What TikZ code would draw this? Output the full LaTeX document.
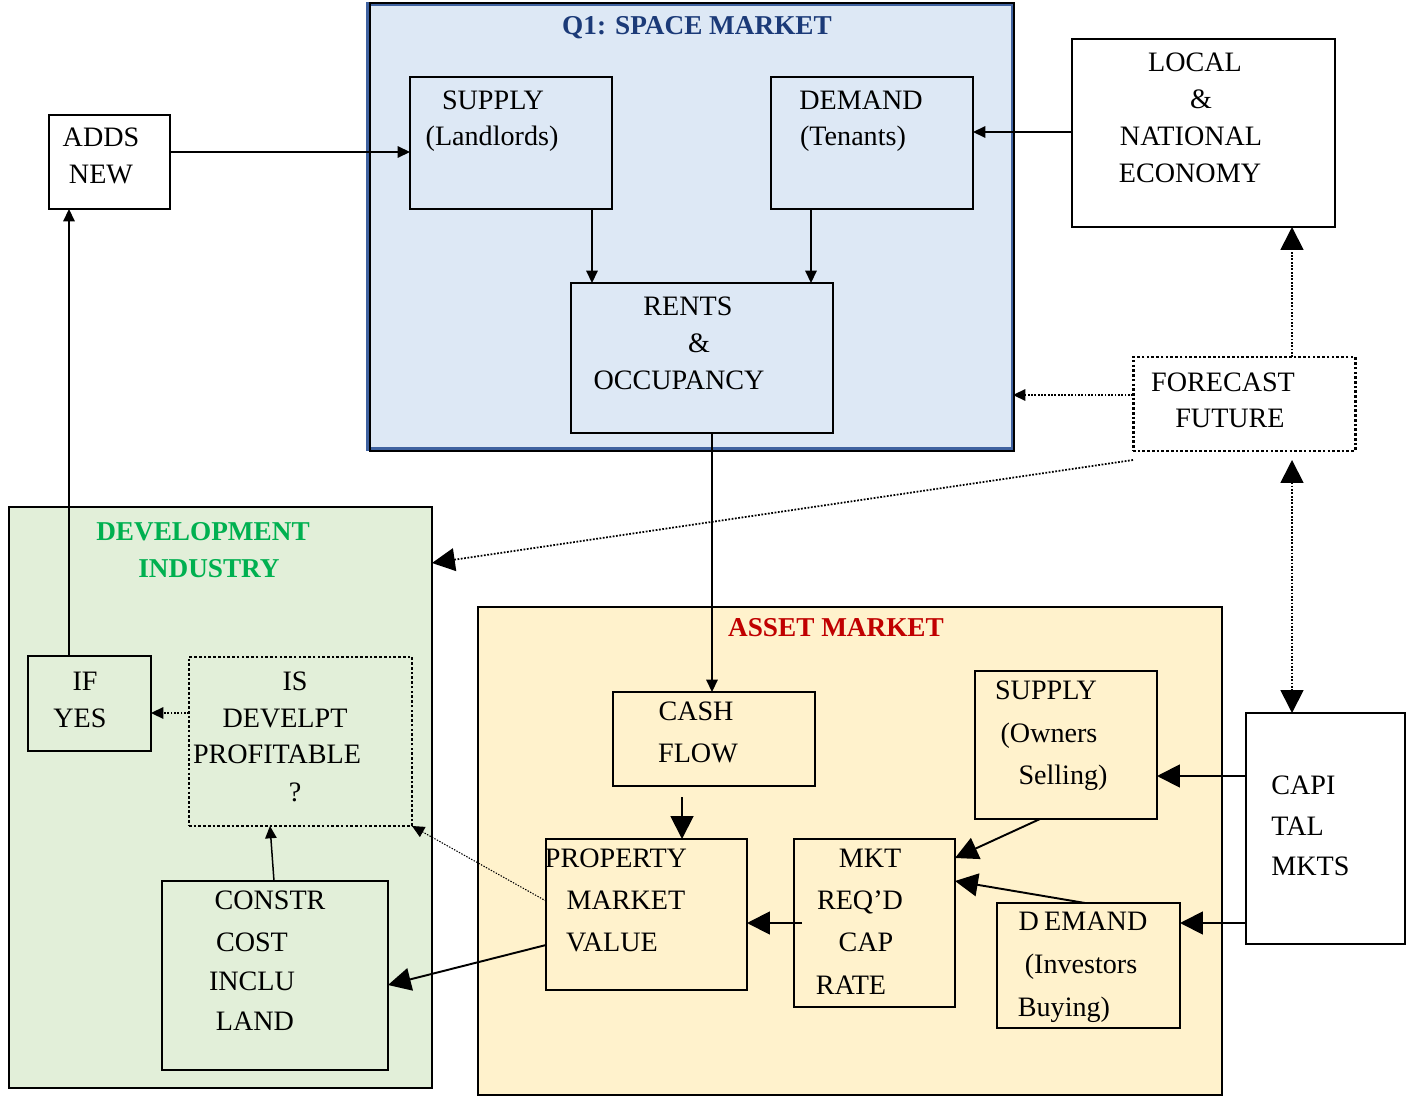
\documentclass[tikz,border=0pt]{standalone}
\usepackage{fontspec}
\setmainfont{Liberation Serif}
\usetikzlibrary{arrows.meta,calc}
\definecolor{spacefill}{HTML}{DDE8F5}
\definecolor{spaceblue}{HTML}{3F62A0}
\definecolor{devfill}{HTML}{E2EFD9}
\definecolor{assetfill}{HTML}{FFF2CC}
\definecolor{navy}{HTML}{1B3A78}
\definecolor{devgreen}{HTML}{00B050}
\definecolor{assetred}{HTML}{C00000}
\newcommand\mkbox[6]{\node[#6, minimum width={(#4-#2)*0.02cm}, minimum height={(#5-#3)*0.02cm}] (#1) at ({(#2+#4)/2},{(#3+#5)/2}) {};}
\newcommand\tx[4][]{\node[txt,#1] (#2) at (#3) {#4};}
\begin{document}
\begin{tikzpicture}[x=0.02cm,y=-0.02cm,
  box/.style={draw=black, line width=1.35pt, inner sep=0pt, outer sep=0pt},
  dotbox/.style={draw=black, line width=1.7pt, dash pattern=on 1.5pt off 1.2pt, inner sep=0pt, outer sep=0pt},
  region/.style={draw=black, line width=1.3pt, inner sep=0pt, outer sep=0pt},
  txt/.style={font=\fontsize{16}{19}\selectfont, inner sep=0pt, anchor=base},
  ttl/.style={font=\fontsize{15.5}{18}\selectfont\bfseries, inner sep=0pt, anchor=base},
  conn/.style={line width=0.85pt},
  dconn/.style={line width=1pt, dash pattern=on 1pt off 0.9pt},
  small/.style={-{Triangle[length=7pt,width=6.5pt]}},
  big/.style={-{Triangle[length=13pt,width=13pt]}},
  bigboth/.style={{Triangle[length=13pt,width=13pt]}-{Triangle[length=13pt,width=13pt]}}
]
\useasboundingbox (0,0) rectangle (1407,1098);

% regions
\mkbox{space}{368}{4}{1013}{449}{region, fill=spacefill, draw=spaceblue, line width=2pt}
\draw[line width=1pt] (space.north west) ++(2,-1) rectangle ($(space.south east)+(1,2)$);
\mkbox{dev}{9}{507}{432}{1088}{region, fill=devfill}
\mkbox{asset}{478}{607}{1222}{1095}{region, fill=assetfill}

% space market boxes
\mkbox{sup}{410}{77}{612}{209}{box}
\mkbox{dem}{771}{77}{973}{209}{box}
\mkbox{rents}{571}{283}{833}{433}{box}
\mkbox{adds}{49}{115}{170}{209}{box}
\mkbox{econ}{1072}{39}{1335}{227}{box}
\mkbox{fore}{1133}{357}{1355}{451}{dotbox}
\mkbox{cap}{1246}{713}{1405}{944}{box}

% development boxes
\mkbox{ify}{28}{656}{151}{751}{box}
\mkbox{isd}{189}{657}{412}{826}{dotbox}
\mkbox{con}{162}{881}{388}{1070}{box}

% asset boxes
\mkbox{cash}{613}{692}{815}{786}{box}
\mkbox{prop}{546}{839}{747}{990}{box}
\mkbox{mkt}{794}{839}{955}{1007}{box}
\mkbox{supo}{975}{671}{1157}{819}{box}
\mkbox{demi}{997}{903}{1180}{1028}{box}

% titles
\node[ttl, text=navy] (tq1) at (697,35) {Q1: SPACE MARKET};
\node[ttl, text=devgreen] (tdev1) at (203,540) {DEVELOPMENT};
\node[ttl, text=devgreen] (tdev2) at (209,577) {INDUSTRY};
\node[ttl, text=assetred] (tasset) at (836,636) {ASSET MARKET};

% texts
\tx{ts1}{493,110}{SUPPLY}
\tx{ts2}{492,146}{(Landlords)}
\tx{td1}{861,110}{DEMAND}
\tx{td2}{853,146}{(Tenants)}
\tx{tr1}{688,316}{RENTS}
\tx{tr2}{699,353}{\&}
\tx{tr3}{679,389}{OCCUPANCY}
\tx{ta1}{101,147}{ADDS}
\tx{ta2}{101,184}{NEW}
\tx{te1}{1195,72}{LOCAL}
\tx{te2}{1201,109}{\&}
\tx{te3}{1191,146}{NATIONAL}
\tx{te4}{1190,183}{ECONOMY}
\tx{tf1}{1223,391}{FORECAST}
\tx{tf2}{1230,427}{FUTURE}
\tx[anchor=base west]{tc1}{1271,794}{CAPI}
\tx[anchor=base west]{tc2}{1271,835}{TAL}
\tx[anchor=base west]{tc3}{1271,875}{MKTS}
\tx{ti1}{85,690}{IF}
\tx{ti2}{80,727}{YES}
\tx{tp1}{295,690}{IS}
\tx{tp2}{285,727}{DEVELPT}
\tx{tp3}{277,763}{PROFITABLE}
\tx{tp4}{295,801}{?}
\tx{tk1}{270,909}{CONSTR}
\tx{tk2}{252,951}{COST}
\tx{tk3}{252,990}{INCLU}
\tx{tk4}{255,1030}{LAND}
\tx{tcf1}{696,720}{CASH}
\tx{tcf2}{698,762}{FLOW}
\tx{tpm1}{616,867}{PROPERTY}
\tx{tpm2}{626,909}{MARKET}
\tx{tpm3}{612,951}{VALUE}
\tx{tm1}{870,867}{MKT}
\tx{tm2}{860,909}{REQ’D}
\tx{tm3}{866,951}{CAP}
\tx{tm4}{851,994}{RATE}
\tx{tso1}{1046,699}{SUPPLY}
\tx{tso2}{1049,742}{(Owners}
\tx{tso3}{1063,784}{Selling)}
\tx{tdi1}{1083,930}{D\kern3pt EMAND}
\tx{tdi2}{1081,973}{(Investors}
\tx{tdi3}{1064,1016}{Buying)}

% connectors - space market
\draw[conn, small] (adds.east |- 0,152) -- (sup.west |- 0,152);
\draw[conn, small] (econ.west |- 0,132) -- (dem.east |- 0,132);
\draw[conn, small] (sup.south -| 592,0) -- (rents.north -| 592,0);
\draw[conn, small] (dem.south -| 811,0) -- (rents.north -| 811,0);
\draw[conn, small] (rents.south -| 712,0) -- (cash.north -| 712,0);

% forecast connectors
\draw[dconn, small] (fore.west |- 0,395) -- (space.east |- 0,395);
\draw[dconn, big] (fore.north -| 1292,0) -- (econ.south -| 1292,0);
\draw[dconn, bigboth] ($(fore.south -| 1292,0)+(0,9)$) -- (cap.north -| 1292,0);
\draw[dconn, big] ($(fore.south west)+(0,9)$) -- (dev.east |- 0,563);

% development
\draw[conn, small] (ify.north -| 69,0) -- (adds.south -| 69,0);
\draw[dconn, small] (isd.west |- 0,713) -- (ify.east |- 0,713);
\draw[conn, small] (con.north -| 274,0) -- (isd.south -| 270,0);
\draw[line width=0.6pt, dash pattern=on 0.8pt off 0.8pt, small] (prop.west |- 0,901) -- (isd.south east);
\draw[conn, line width=1.1pt, big] (prop.west |- 0,945) -- (con.east |- 0,985);

% asset market
\draw[conn, line width=1.1pt, big] ($(cash.south -| 682,0)+(0,11)$) -- (prop.north -| 682,0);
\draw[conn, line width=1.1pt, big] ($(mkt.west |- 0,923)+(8,0)$) -- (prop.east |- 0,923);
\draw[conn, line width=1.1pt, big] (supo.south -| 1040,0) -- (mkt.east |- 0,858);
\draw[conn, line width=1.1pt, big] (demi.north -| 1085,0) -- (mkt.east |- 0,881);
\draw[conn, line width=1.1pt, big] (cap.west |- 0,776) -- (supo.east |- 0,776);
\draw[conn, line width=1.1pt, big] (cap.west |- 0,923) -- (demi.east |- 0,923);
\end{tikzpicture}
\end{document}
